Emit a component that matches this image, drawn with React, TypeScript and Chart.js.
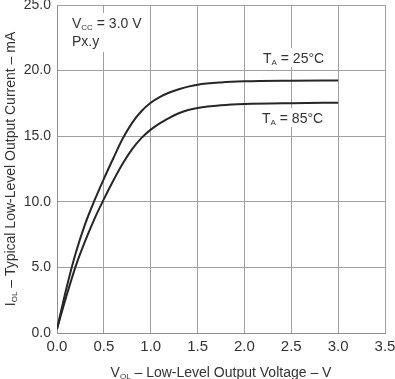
import { useEffect, useRef } from "react";
import { Chart, registerables } from "chart.js";

Chart.register(...registerables);

const voltage25 = [0, 0.1, 0.2, 0.3, 0.4, 0.5, 0.6, 0.7, 0.8, 0.9, 1.0, 1.1, 1.2, 1.3, 1.4, 1.5, 1.75, 2.0, 2.5, 3.0];
const current25 = [0.3, 3.4, 6.1, 8.3, 10.1, 11.75, 13.3, 14.8, 16.0, 16.9, 17.55, 18.0, 18.33, 18.58, 18.78, 18.93, 19.1, 19.18, 19.23, 19.25];
const voltage85 = [0, 0.1, 0.2, 0.3, 0.4, 0.5, 0.6, 0.7, 0.8, 0.9, 1.0, 1.1, 1.2, 1.3, 1.4, 1.5, 1.75, 2.0, 2.5, 3.0];
const current85 = [0.3, 2.8, 5.1, 7.0, 8.7, 10.2, 11.6, 12.9, 14.0, 14.85, 15.5, 16.0, 16.4, 16.75, 17.0, 17.15, 17.35, 17.45, 17.52, 17.55];
const xTickValues = [0, 0.5, 1.0, 1.5, 2.0, 2.5, 3.0, 3.5];
const yTickValues = [0, 5, 10, 15, 20, 25];

const FONT = '"Liberation Sans", Arial, Helvetica, sans-serif';
const TEXT = "#333333";

type Part = [string, boolean];

function partsWidth(ctx: CanvasRenderingContext2D, parts: Part[], size: number, sub: number) {
  let w = 0;
  for (const [t, s] of parts) {
    ctx.font = `${s ? sub : size}px ${FONT}`;
    w += ctx.measureText(t).width;
  }
  return w;
}

function drawParts(ctx: CanvasRenderingContext2D, parts: Part[], x: number, y: number, size: number, sub: number) {
  let cx = x;
  for (const [t, s] of parts) {
    ctx.font = `${s ? sub : size}px ${FONT}`;
    ctx.fillText(t, cx, s ? y + 2 : y);
    cx += ctx.measureText(t).width;
  }
}

const textPlugin = {
  id: "textPlugin",
  beforeDatasetsDraw(chart: any) {
    const ctx = chart.ctx as CanvasRenderingContext2D;
    ctx.save();
    ctx.fillStyle = "#ffffff";
    ctx.fillRect(69, 13, 73, 39);
    ctx.fillRect(255, 48, 78, 19);
    ctx.fillRect(255, 108, 78, 19);
    ctx.restore();
  },
  afterDraw(chart: any) {
    const ctx = chart.ctx as CanvasRenderingContext2D;
    const area = chart.chartArea;
    ctx.save();
    ctx.fillStyle = TEXT;
    ctx.textBaseline = "alphabetic";
    ctx.textAlign = "left";

    drawParts(ctx, [["V", false], ["CC", true], [" = 3.0 V", false]], 72, 28, 14, 8);
    drawParts(ctx, [["Px.y", false]], 72, 46, 14, 8);
    drawParts(ctx, [["T", false], ["A", true], [" = 25°C", false]], 263, 63, 14, 8);
    drawParts(ctx, [["T", false], ["A", true], [" = 85°C", false]], 262, 123, 14, 8);

    const xParts: Part[] = [["V", false], ["OL", true], [" – Low-Level Output Voltage – V", false]];
    const xw = partsWidth(ctx, xParts, 14, 8);
    drawParts(ctx, xParts, (area.left + area.right) / 2 - xw / 2, 377, 14, 8);

    const yParts: Part[] = [["I", false], ["OL", true], [" – Typical Low-Level Output Current – mA", false]];
    const yw = partsWidth(ctx, yParts, 14, 8);
    ctx.translate(15, (area.top + area.bottom) / 2);
    ctx.rotate(-Math.PI / 2);
    drawParts(ctx, yParts, -yw / 2, 0, 14, 8);
    ctx.restore();
  },
};

function zeroPad(s: any) {
  s.paddingTop = 0;
  s.paddingBottom = 0;
  s.paddingLeft = 0;
  s.paddingRight = 0;
}

export default function App() {
  const ref = useRef<HTMLCanvasElement | null>(null);

  useEffect(() => {
    if (!ref.current) return;
    const chart = new Chart(ref.current, {
      type: "line",
      data: {
        datasets: [
          {
            label: "TA = 25°C",
            data: voltage25.map((v, i) => ({ x: v, y: current25[i] })),
            borderColor: "#262626",
            borderWidth: 2,
            pointRadius: 0,
            cubicInterpolationMode: "monotone",
            fill: false,
          },
          {
            label: "TA = 85°C",
            data: voltage85.map((v, i) => ({ x: v, y: current85[i] })),
            borderColor: "#262626",
            borderWidth: 2,
            pointRadius: 0,
            cubicInterpolationMode: "monotone",
            fill: false,
          },
        ],
      },
      options: {
        responsive: false,
        animation: false,
        devicePixelRatio: 1,
        layout: { padding: { top: 5, right: 10, left: 0, bottom: 0 } },
        plugins: { legend: { display: false }, tooltip: { enabled: false } },
        scales: {
          x: {
            type: "linear",
            min: 0,
            max: 3.5,
            afterFit: (s: any) => {
              s.height = 46;
              zeroPad(s);
            },
            afterBuildTicks: (s: any) => {
              s.ticks = xTickValues.map((v) => ({ value: v }));
            },
            grid: { color: "#a0a0a0", lineWidth: 1, drawTicks: false },
            border: { color: "#909090", width: 1 },
            ticks: {
              padding: 5,
              color: TEXT,
              font: { family: FONT, size: 15 },
              callback: (v: any) => Number(v).toFixed(1),
              maxRotation: 0,
            },
          },
          y: {
            type: "linear",
            min: 0,
            max: 25,
            afterFit: (s: any) => {
              s.width = 57;
              zeroPad(s);
            },
            afterBuildTicks: (s: any) => {
              s.ticks = yTickValues.map((v) => ({ value: v }));
            },
            grid: { color: "#a0a0a0", lineWidth: 1, drawTicks: false },
            border: { color: "#909090", width: 1 },
            ticks: {
              padding: 6,
              color: TEXT,
              font: { family: FONT, size: 14 },
              callback: (v: any) => Number(v).toFixed(1),
            },
          },
        },
      },
      plugins: [textPlugin],
    });
    return () => chart.destroy();
  }, []);

  return (
    <div style={{ position: "absolute", left: 0, top: 0, width: 395, height: 379, background: "#fff" }}>
      <canvas ref={ref} width={395} height={379} style={{ display: "block" }} />
    </div>
  );
}
